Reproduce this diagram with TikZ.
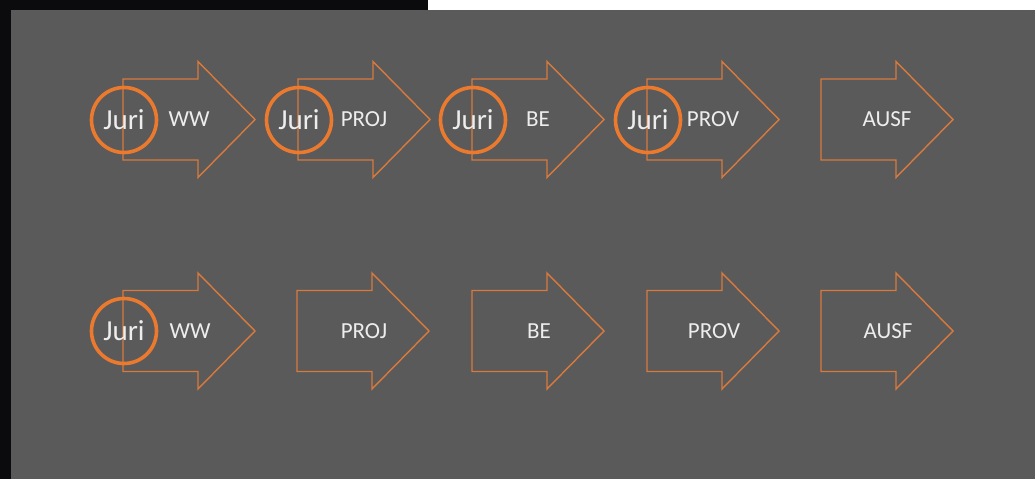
\documentclass[tikz,border=0pt]{standalone}
\usepackage{fontspec}
\setmainfont{Carlito}
\begin{document}
\definecolor{frame}{HTML}{0B0B0D}
\definecolor{slide}{HTML}{5A5A5A}
\definecolor{outline}{HTML}{D97A3C}
\definecolor{ring}{HTML}{EC7A2E}
\definecolor{label}{HTML}{EDEDED}
\tikzset{
  arrowline/.style={draw=outline, line width=1.4pt, line join=miter},
  flowarrow/.pic={
    \draw[arrowline] (0,-40.5) -- (75,-40.5) -- (75,-58) -- (132,0)
      -- (75,58) -- (75,40.5) -- (0,40.5) -- cycle;
  },
  steplabel/.style={text=label, font=\fontsize{23}{25}\selectfont, inner sep=0pt},
  juriring/.style={circle, draw=ring, line width=3.6pt, minimum size=65pt,
    inner sep=0pt, text=label, font=\fontsize{29}{31}\selectfont},
}
\begin{tikzpicture}[x=1pt,y=-1pt]
  % page background and slide area
  \fill[frame] (0,0) rectangle (1035,479);
  \fill[white] (428,0) rectangle (1035,10);
  \fill[slide] (11,10) rectangle (1035,479);
  \useasboundingbox (0,0) rectangle (1035,479);

  % upper row: every step shared with Juri
  \foreach \x/\t/\n in {123/WW/a, 298/PROJ/b, 472/BE/c, 647/PROV/d, 821/AUSF/e} {
    \pic at (\x,119.5) {flowarrow};
    \node[steplabel] (top-\n) at (\x+66,119.5) {\t};
  }
  \foreach \x/\n in {124/a, 299/b, 473/c, 648/d} {
    \node[juriring] (jtop-\n) at (\x,120) {Juri};
  }

  % lower row: only the first step shared with Juri
  \foreach \x/\t/\n in {123/WW/a, 297/PROJ/b, 472/BE/c, 647/PROV/d, 821/AUSF/e} {
    \pic at (\x,331) {flowarrow};
    \node[steplabel] (bot-\n) at (\x+67,331) {\t};
  }
  \node[juriring] (jbot-a) at (124,331) {Juri};
\end{tikzpicture}
\end{document}
